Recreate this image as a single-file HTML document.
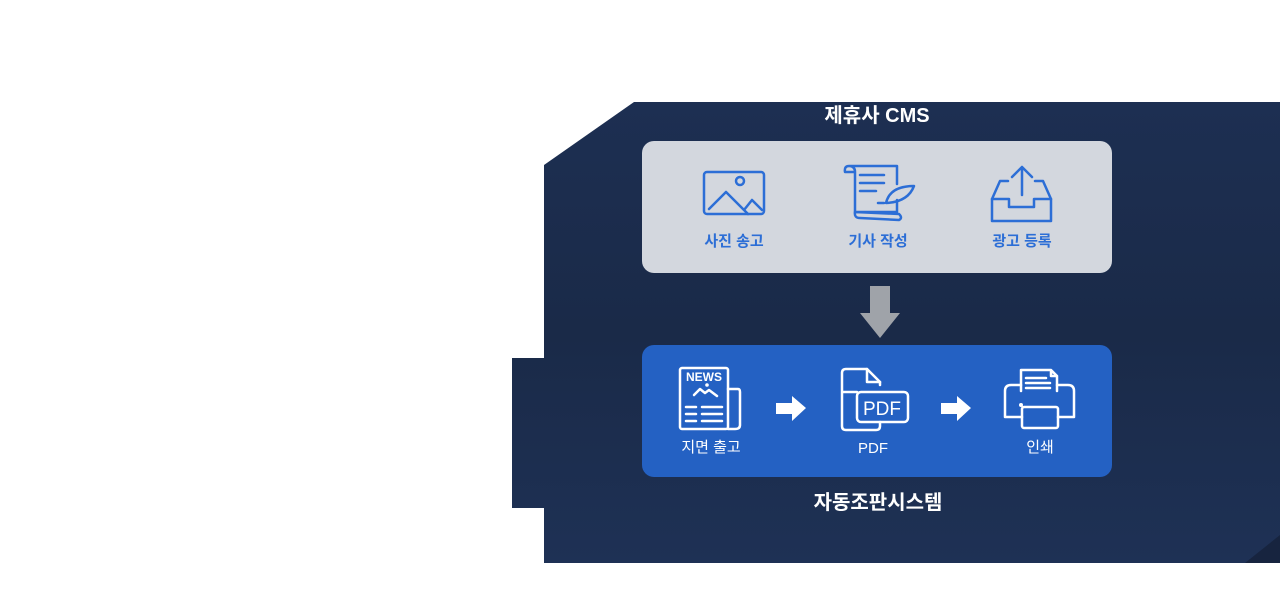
<!DOCTYPE html>
<html><head><meta charset="utf-8"><style>
html,body{margin:0;padding:0;background:#fff;width:1280px;height:600px;overflow:hidden}
svg{display:block}
text{font-family:"Liberation Sans","Noto Sans CJK KR",sans-serif}
</style></head><body>
<svg width="1280" height="600" viewBox="0 0 1280 600">
<defs>
<linearGradient id="bg" x1="0" y1="0" x2="0" y2="1">
<stop offset="0" stop-color="#1d2f52"/><stop offset="0.5" stop-color="#1a2a48"/><stop offset="1" stop-color="#1e3155"/>
</linearGradient>
</defs>
<polygon points="634,102 1280,102 1280,563 544,563 544,508 512,508 512,358 544,358 544,165" fill="url(#bg)"/>
<polygon points="1245,563 1280,535 1280,563" fill="#17243f"/>
<text x="877" y="122" text-anchor="middle" fill="#fff" font-size="20" font-weight="bold">제휴사 CMS</text>
<rect x="642" y="141" width="470" height="132" rx="12" fill="#d3d7de"/>
<g stroke="#2c6ed6" stroke-width="2.5" fill="none" stroke-linecap="round" stroke-linejoin="round">
<rect x="704" y="172" width="60" height="42" rx="3"/>
<circle cx="740" cy="181" r="4"/>
<path d="M709 209 L726 192 L748 214 M744 210 L752 200 L762 210"/>
<path d="M849 166 L897 166 L897 184 M897 200 L897 212 L855 212 L855 172 Q855 166 849 166 Q844 166 845 172 L855 172"/>
<path d="M855 212 L899 214 Q903 218 899 220 L860 218 Q854 218 855 212"/>
<path d="M860 175 L884 175 M860 183 L884 183 M860 191 L876 191"/>
<path d="M886 203 Q890 186 914 186 Q908 202 886 203 Z M884 203 L878 203"/>
<path d="M1022 167 L1022 195 M1012 177 L1022 167 L1032 177"/>
<path d="M1008 181 L1000 181 L992 199 L992 221 L1051 221 L1051 199 L1043 181 L1035 181"/>
<path d="M992 199 L1009 199 L1009 207 L1034 207 L1034 199 L1051 199"/>
</g>
<g fill="#2c6ed6" font-size="15" font-weight="bold" text-anchor="middle">
<text x="734" y="246">사진 송고</text><text x="878" y="246">기사 작성</text><text x="1022" y="246">광고 등록</text>
</g>
<polygon points="870,286 890,286 890,313 900,313 880,338 860,313 870,313" fill="#9fa3a9"/>
<rect x="642" y="345" width="470" height="132" rx="12" fill="#2461c3"/>
<g stroke="#fff" stroke-width="2.5" fill="none" stroke-linecap="round" stroke-linejoin="round">
<rect x="680" y="368" width="48" height="61" rx="2"/>
<path d="M728 389 L738 389 Q740 389 740 392 L740 425 Q740 429 735 429 L728 429"/>
<path d="M694 395 L700 389 L705 393 L709 390 L717 396"/>
<path d="M686 407 L696 407 M702 407 L722 407 M686 414 L696 414 M702 414 L722 414 M686 421 L696 421 M702 421 L722 421"/>
<path d="M857 392 L842 392 M880 385 L880 382 L867 369 L846 369 Q842 369 842 373 L842 426 Q842 430 846 430 L876 430 Q880 430 880 426 L880 422"/>
<path d="M867 369 L867 382 L880 382"/>
<rect x="857" y="392" width="51" height="30" rx="4"/>
<path d="M1021 391 L1021 370 L1051 370 L1057 376 L1057 391 M1051 370 L1051 376 L1057 376 M1026 378 L1046 378 M1026 383 L1050 383 M1026 388 L1050 388"/>
<path d="M1021 385 L1011 385 Q1005 385 1005 391 L1005 417 L1022 417 M1057 385 L1068 385 Q1074 385 1074 391 L1074 417 L1058 417"/>
<rect x="1022" y="407" width="36" height="21" rx="2"/>
</g>
<circle cx="707" cy="385" r="1.8" fill="#fff"/>
<circle cx="1021" cy="405" r="2" fill="#fff"/>
<text x="704" y="381" fill="#fff" font-size="12" font-weight="bold" text-anchor="middle">NEWS</text>
<text x="882" y="415" fill="#fff" font-size="19" text-anchor="middle">PDF</text>
<polygon points="776,403 792,403 792,396 806,408 792,421 792,414 776,414" fill="#fff"/>
<polygon points="941,403 957,403 957,396 971,408 957,421 957,414 941,414" fill="#fff"/>
<g fill="#fff" font-size="15" text-anchor="middle">
<text x="711" y="452">지면 출고</text><text x="873" y="453">PDF</text><text x="1040" y="452">인쇄</text>
</g>
<text x="878" y="509" text-anchor="middle" fill="#fff" font-size="20" font-weight="bold">자동조판시스템</text>
</svg>
</body></html>
